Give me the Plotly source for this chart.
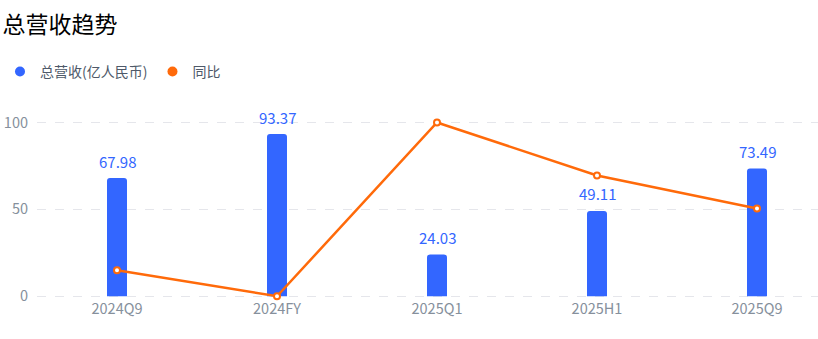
import plotly.graph_objects as go

categories = ["2024Q9", "2024FY", "2025Q1", "2025H1", "2025Q9"]
revenue = [67.98, 93.37, 24.03, 49.11, 73.49]
yoy = [15.0, 0.0, 100.0, 69.5, 50.5]
y_ticks = [0, 50, 100]

BLUE = "#3366FF"
ORANGE = "#FF6A0A"
FONT = "Noto Sans CJK SC, Noto Sans, sans-serif"

fig = go.Figure()
fig.add_trace(go.Bar(
    x=categories, y=revenue, marker=dict(color=BLUE, line=dict(width=0)),
    width=0.125, showlegend=False, hoverinfo="skip",
))
fig.add_trace(go.Scatter(
    x=categories, y=yoy, mode="lines+markers",
    line=dict(color=ORANGE, width=2.5),
    marker=dict(symbol="circle", size=6, color="white", line=dict(color=ORANGE, width=2)),
    showlegend=False, cliponaxis=False,
))
# legend entries (circle symbols)
fig.add_trace(go.Scatter(x=[None], y=[None], mode="markers", name="总营收(亿人民币)",
                         marker=dict(color=BLUE, size=10, symbol="circle")))
fig.add_trace(go.Scatter(x=[None], y=[None], mode="markers", name="同比",
                         marker=dict(color=ORANGE, size=10, symbol="circle")))

for c, v in zip(categories, revenue):
    fig.add_annotation(x=c, y=v, text=f"{v:.2f}", showarrow=False, yshift=17,
                       font=dict(color=BLUE, size=15, family=FONT))

fig.update_layout(
    width=818, height=339,
    margin=dict(l=37, r=0, t=118.5, b=41.3),
    paper_bgcolor="white", plot_bgcolor="white",
    font=dict(family=FONT),
    barcornerradius=3,
    title=dict(text="总营收趋势", x=0.003, xanchor="left", xref="container",
               y=0.925, yanchor="middle",
               font=dict(size=23, color="#000000", family=FONT)),
    legend=dict(orientation="h", x=-0.0666, xanchor="left", xref="paper",
                y=0.788, yref="container", yanchor="middle",
                font=dict(size=14, color="#4E5969", family=FONT)),
    showlegend=True,
)
fig.update_xaxes(range=[-0.5, 4.38125], showgrid=False, zeroline=False, showline=False,
                 ticks="", tickfont=dict(size=14.5, color="#86909C", family=FONT))
fig.update_yaxes(range=[-1, 102], tickvals=y_ticks, showgrid=True, gridcolor="#E5E6EB",
                 griddash="dash", gridwidth=1, zeroline=False, showline=False, ticks="",
                 tickfont=dict(size=14.5, color="#86909C", family=FONT), ticklabelstandoff=8)

fig.write_html("out.html")
